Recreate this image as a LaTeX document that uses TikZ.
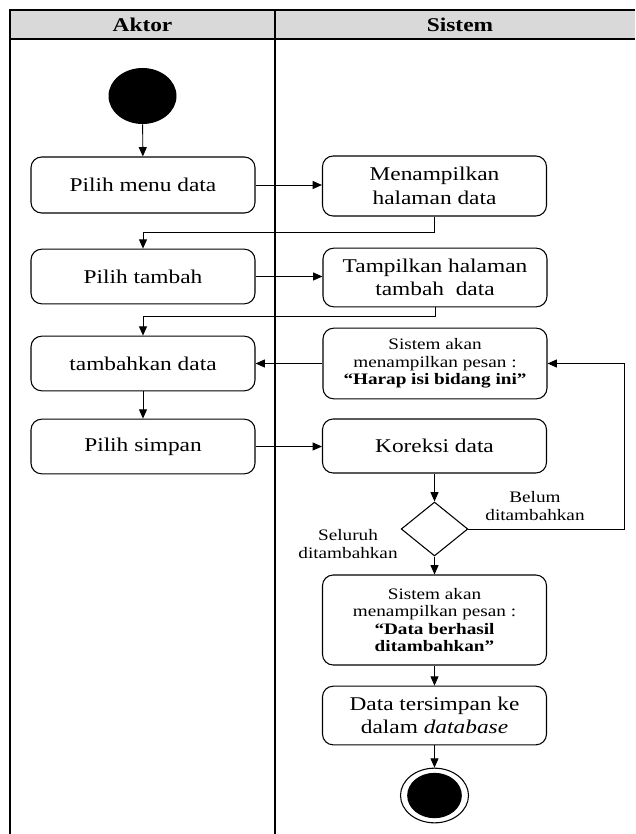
\documentclass[tikz,border=0pt]{standalone}
\usepackage{fontspec}
\setmainfont{Liberation Serif}[FakeStretch=1.2]
\usepackage{tikz}
\usetikzlibrary{arrows.meta, positioning, shapes.geometric}

\begin{document}
\begin{tikzpicture}[x=0.75pt, y=-0.75pt,
  activity/.style={draw, rounded corners=8pt, line width=0.8pt, minimum width=168pt, align=center, inner sep=2pt, font=\fontsize{14.6}{17.5}\selectfont},
  message/.style={activity, font=\fontsize{12}{13.2}\selectfont},
  flow/.style={-{Triangle[length=7pt,width=6pt]}, line width=0.7pt},
  lane/.style={line width=1.3pt},
  guard/.style={align=center, font=\fontsize{12}{13.2}\selectfont}]
  \useasboundingbox (0,0) rectangle (635,834);

  % swimlanes
  \fill[black!15] (10,10) rectangle (635,39);
  \draw[lane] (635,10) -- (10,10) -- (10,834);
  \draw[lane] (10,39) -- (635,39);
  \draw[lane] (275,10) -- (275,834);
  \node[font=\fontsize{14.6}{17}\selectfont\bfseries] (aktor) at (142.5,24.5) {Aktor};
  \node[font=\fontsize{14.6}{17}\selectfont\bfseries] (sistem) at (460,24.5) {Sistem};

  % activities
  \node[ellipse, fill=black, minimum width=51pt, minimum height=42pt, inner sep=0pt] (start) at (142.5,96) {};
  \node[activity, minimum height=42pt] (menu) at (143,185) {Pilih menu data};
  \node[activity, minimum height=45pt] (tampil) at (434.5,186) {Menampilkan\\halaman data};
  \node[activity, minimum height=41pt] (tambah) at (143,276.5) {Pilih tambah};
  \node[activity, minimum height=44pt] (formtambah) at (435,277.5) {Tampilkan halaman\\tambah\ \ data};
  \node[activity, minimum height=41pt] (isi) at (143,363.5) {tambahkan data};
  \node[message, minimum height=53pt] (harap) at (435,363.5) {Sistem akan\\menampilkan pesan :\\\textbf{“Harap isi bidang ini”}};
  \node[activity, minimum height=41pt] (simpan) at (143,446.5) {Pilih simpan};
  \node[activity, minimum height=40.5pt] (koreksi) at (434.5,446) {Koreksi data};
  \node[diamond, draw, line width=0.8pt, minimum width=50pt, minimum height=40.5pt, inner sep=0pt] (cek) at (434.5,529) {};
  \node[message, minimum height=67.5pt] (berhasil) at (434.5,620) {Sistem akan\\menampilkan pesan :\\\textbf{“Data berhasil}\\\textbf{ditambahkan”}};
  \node[activity, minimum height=44pt] (tersimpan) at (434.5,715.5) {Data tersimpan ke\\dalam \textit{database}};
  \node[ellipse, draw, line width=0.8pt, minimum width=51pt, minimum height=41pt, inner sep=0pt] (finish) at (434.5,795.5) {};
  \node[ellipse, fill=black, minimum width=41pt, minimum height=34pt, inner sep=0pt] (finishdot) at (finish) {};
  \coordinate (loop) at (624,0);

  % guards
  \node[guard] (belum) at (535,506) {Belum\\ditambahkan};
  \node[guard] (seluruh) at (348,544) {Seluruh\\ditambahkan};

  % flows
  \draw[flow] (start) -- (menu);
  \draw[flow] (menu.east) -- (menu.east -| tampil.west);
  \draw[flow] (tampil.south) -- ++(0,16) -| (tambah.north);
  \draw[flow] (tambah.east) -- (tambah.east -| formtambah.west);
  \draw[flow] (formtambah.south) -- ++(0,9) -| (isi.north);
  \draw[flow] (harap.west) -- (isi.east);
  \draw[flow] (isi) -- (simpan);
  \draw[flow] (simpan.east) -- (simpan.east -| koreksi.west);
  \draw[flow] (koreksi) -- (cek);
  \draw[flow] (cek.east) -- (cek.east -| loop) |- (harap.east);
  \draw[flow] (cek) -- (berhasil);
  \draw[flow] (berhasil) -- (tersimpan);
  \draw[flow] (tersimpan) -- (finish);
\end{tikzpicture}
\end{document}
